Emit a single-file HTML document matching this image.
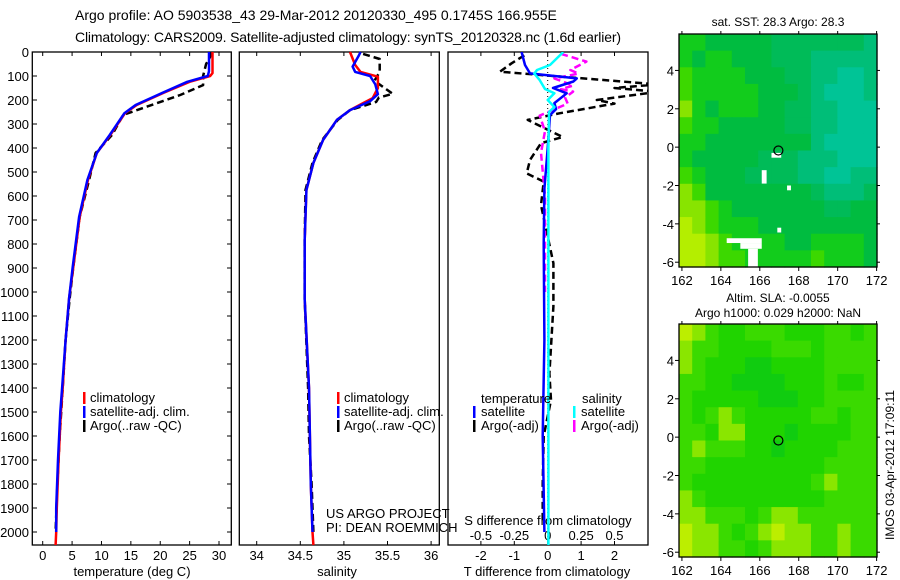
<!DOCTYPE html>
<html><head><meta charset="utf-8"><style>
body{margin:0;background:#fff;}
svg{display:block;font-family:"Liberation Sans",sans-serif;}
text{fill:#000;}
</style></head><body>
<svg id="fig" width="900" height="580" viewBox="0 0 900 580" xmlns="http://www.w3.org/2000/svg">
<text x="75" y="20" font-size="14">Argo profile: AO 5903538_43 29-Mar-2012 20120330_495 0.1745S 166.955E</text>
<text x="75" y="42" font-size="14" textLength="546">Climatology: CARS2009. Satellite-adjusted climatology: synTS_20120328.nc (1.6d earlier)</text>
</svg>
<script>
// ---------- data ----------
const depthTicks=[0,100,200,300,400,500,600,700,800,900,1000,1100,1200,1300,1400,1500,1600,1700,1800,1900,2000];
const tempTicks=[0,5,10,15,20,25,30];
const salTicks=[34,34.5,35,35.5,36];
const salTickLabels=["34","34.5","35","35.5","36"];
const tdiffTicks=[-2,-1,0,1,2];
const sdiffTicks=[-0.5,-0.25,0,0.25,0.5];
const sdiffTickLabels=["-0.5","-0.25","0","0.25","0.5"];

const tClimDepth=[0,88,100,124,171,221,255,346,421,533,687,896,1026,1200,1400,1500,1700,1900,2000,2054];
const tClimVal=[28.9,28.9,28.5,25,20.5,16,14,11.5,9.2,7.7,6.3,5.2,4.5,3.9,3.4,3.1,2.7,2.4,2.3,2.2];
const tSatDepth=[0,80,100,124,171,221,255,346,421,533,687,896,1026,1200,1400,1500,1700,1900,2000];
const tSatVal=[28.3,28.3,28.1,24.6,20.3,15.8,13.9,11.4,9.2,7.6,6.2,5.1,4.5,3.9,3.3,3.0,2.6,2.3,2.3];
const tArgoDepth=[0,20,50,100,138,179,228,262,346,421,533,687,896,1026,1200,1400,1600,1800,2000];
const tArgoVal=[28.5,28.5,27.8,27.3,27.3,23.4,17.7,13.7,11.8,9.0,7.9,6.3,5.2,4.6,3.9,3.4,2.9,2.5,2.2];

const sClimDepth=[0,54,83,103,150,192,213,242,283,367,462,575,783,1030,1400,1600,1800,2000,2054];
const sClimVal=[35.07,35.13,35.19,35.39,35.39,35.33,35.22,35.07,34.92,34.76,34.65,34.57,34.55,34.55,34.6,34.61,34.62,34.64,34.65];
const sSatDepth=[0,16,61,83,100,135,176,205,242,283,367,462,575,783,1030,1400,1600,1800,2000];
const sSatVal=[35.19,35.17,35.10,35.13,35.30,35.36,35.39,35.30,35.07,34.92,34.76,34.65,34.57,34.55,34.55,34.6,34.61,34.62,34.64];
const sArgoDepth=[8,29,83,120,174,190,208,242,283,367,462,575,783,1030,1400,1600,1800,2000];
const sArgoVal=[35.22,35.41,35.41,35.35,35.56,35.4,35.37,35.07,34.93,34.75,34.64,34.56,34.55,34.55,34.59,34.6,34.63,34.65];

const dTSatDepth=[0,54,89,110,123,150,172,213,238,263,400,570,800,1200,1600,2000];
const dTSatVal=[-0.78,-0.68,-0.53,0.87,0.77,0.16,0.57,0.2,0.25,0.07,0,-0.1,-0.12,-0.1,-0.15,-0.1];
const dTArgoDepth=[14,47,82,135,150,166,200,215,255,283,300,354,380,450,506,540,638,880,1060,1340,1450,1600,1800,1950];
const dTArgoVal=[-0.7,-1.08,-1.43,3.3,2.0,3.3,1.47,2.0,0.37,-0.6,-0.35,0.45,-0.2,-0.53,-0.63,-0.12,-0.2,0.17,0.17,0.05,0.1,-0.12,-0.15,-0.15];
const dSSatDepth=[0,54,75,90,117,154,172,200,229,250,400,800,1200,1600,2054];
const dSSatVal=[0.117,0.017,-0.08,-0.1,-0.06,-0.02,0.05,0,0.05,0.01,0.005,0.005,0.005,0.005,0.005];
const dSArgoDepth=[8,40,75,90,110,140,155,165,190,215,265,330,420,600,800,1000];
const dSArgoVal=[0.1,0.29,0.17,0.23,0.05,0.19,0.1,0.19,0.13,0.15,-0.06,-0.02,-0.05,-0.02,-0.02,-0.02];

const latTicks=[-6,-4,-2,0,2,4];
const lonTicks=[162,164,166,168,170,172];
const sstGrid=["ddeeeeefffffffg","deddeeefffggggg","cddddeeeffgghhg","cdddddeeefghhhg","bdedddeeffgghhh","cddeeeeeffgghhh","ddeeeeeeeeghhhh","deeeeefffggghhh","cdeeeffffgghhgg","bceeeeeeeefgggf","bbcdeeeeeeeffee","abcdddeeeeeeeee","aabcddddeedddde","aabccdddddcddde"];
const slaGrid=["abcddcccdddccdc","bccddddcccdcccc","bcdddeeddddcccc","ccddeeeedddcddc","cdddddeeeddcccc","cdcbcdddddccdcc","ccdbbdddeddddcc","cbcccddeddddccc","ccdddddddddcccc","cdddddddddcbccc","bcdddddddddcccc","bbcccdcbbcccccc","abbcdcbabbccbcc","abbccdcbbbccbcc"];
const sstGaps=[[166.6,167.1,-0.3,-0.55],[166.1,166.35,-1.2,-1.9],[167.4,167.6,-2.0,-2.25],[166.9,167.1,-4.2,-4.45],[164.3,166.1,-4.75,-5.0],[165.0,166.1,-5.0,-5.3],[165.4,165.9,-5.3,-6.3]];
const argoLon=166.955, argoLat=-0.1745;

// ---------- helpers ----------
const svg=document.getElementById('fig');
const NS="http://www.w3.org/2000/svg";
function mk(tag,attrs,parent){const e=document.createElementNS(NS,tag);for(const k in attrs)e.setAttribute(k,attrs[k]);(parent||svg).appendChild(e);return e;}
const Y0=52,YS=0.24,PB=545;
const yD=d=>Y0+d*YS;
const xT=v=>42.7+v*5.877;
const xS=v=>256.7+(v-34)*87.2;
const xdT=v=>547.7+v*33.4;
const xdS=v=>547.7+v*133.6;

function line(dep,val,fx,color,dash,name,clip){
  const pts=dep.map((d,i)=>fx(val[i]).toFixed(1)+","+yD(d).toFixed(1)).join(" ");
  const p=mk('polyline',{points:pts,fill:'none',stroke:color,'stroke-width':2.5,'stroke-linejoin':'round'});
  if(dash)p.setAttribute('stroke-dasharray',dash);
  if(clip)p.setAttribute('clip-path',clip);
  
  
}
function txt(x,y,s,size,anchor,name){const t=mk('text',{x:x,y:y,'font-size':size||13,'text-anchor':anchor||'start'});t.textContent=s;
  return t;}
function box(x,y,w,h,name){const r=mk('rect',{x:x,y:y,width:w,height:h,fill:'none',stroke:'#000','stroke-width':1.3});
  }
function legendBar(x,y,color,name){const r=mk('rect',{x:x,y:y-10,width:2.5,height:12,fill:color});
  }

const defs=mk('defs',{});
const cp=mk('clipPath',{id:'c3'},defs);mk('rect',{x:448,y:52,width:200,height:493},cp);

// ---------- panel 1 ----------
box(32.3,52,199,493,'temperature-panel');
depthTicks.forEach(d=>{
  mk('line',{x1:32.3,x2:37,y1:yD(d),y2:yD(d),stroke:'#000'});
  mk('line',{x1:227,x2:231.3,y1:yD(d),y2:yD(d),stroke:'#000'});
  txt(29,yD(d)+5,String(d),13,'end','depth-tick-label');
});
tempTicks.forEach(v=>{mk('line',{x1:xT(v),x2:xT(v),y1:52,y2:56,stroke:'#000'});mk('line',{x1:xT(v),x2:xT(v),y1:541,y2:545,stroke:'#000'});
  txt(xT(v),560,String(v),13,'middle','temperature-tick-label');});
txt(132,576,'temperature (deg C)',13,'middle','x-axis-title-temperature');
line(tArgoDepth,tArgoVal,xT,'#000','7,4','temp-argo-line');
line(tClimDepth,tClimVal,xT,'#f00',null,'temp-climatology-line');
line(tSatDepth,tSatVal,xT,'#00f',null,'temp-satellite-line');
legendBar(83,402,'#f00','legend-climatology-swatch');txt(90,402,'climatology',13,'start','legend-climatology');
legendBar(83,416,'#00f','legend-satellite-swatch');txt(90,416,'satellite-adj. clim.',13,'start','legend-satellite');
legendBar(83,430,'#000','legend-argo-swatch');txt(90,430,'Argo(..raw -QC)',13,'start','legend-argo');

// ---------- panel 2 ----------
box(239.3,52,200,493,'salinity-panel');
salTicks.forEach((v,i)=>{mk('line',{x1:xS(v),x2:xS(v),y1:52,y2:56,stroke:'#000'});mk('line',{x1:xS(v),x2:xS(v),y1:541,y2:545,stroke:'#000'});
  txt(xS(v),560,salTickLabels[i],13,'middle','salinity-tick-label');});
txt(337,576,'salinity',13,'middle','x-axis-title-salinity');
line(sArgoDepth,sArgoVal,xS,'#000','7,4','sal-argo-line');
line(sClimDepth,sClimVal,xS,'#f00',null,'sal-climatology-line');
line(sSatDepth,sSatVal,xS,'#00f',null,'sal-satellite-line');
legendBar(337,402,'#f00','legend2-climatology-swatch');txt(344,402,'climatology',13,'start','legend2-climatology');
legendBar(337,416,'#00f','legend2-satellite-swatch');txt(344,416,'satellite-adj. clim.',13,'start','legend2-satellite');
legendBar(337,430,'#000','legend2-argo-swatch');txt(344,430,'Argo(..raw -QC)',13,'start','legend2-argo');
txt(326,518,'US ARGO PROJECT',13,'start','project-label');
txt(326,532,'PI: DEAN ROEMMICH',13,'start','pi-label');

// ---------- panel 3 ----------
box(448,52,200,493,'difference-panel');
tdiffTicks.forEach(v=>{mk('line',{x1:xdT(v),x2:xdT(v),y1:52,y2:56,stroke:'#000'});
  txt(xdT(v),560,String(v),13,'middle','tdiff-tick-label');});
sdiffTicks.forEach((v,i)=>{mk('line',{x1:xdS(v),x2:xdS(v),y1:541,y2:545,stroke:'#000'});
  txt(xdS(v),540,sdiffTickLabels[i],13,'middle','sdiff-tick-label');});
txt(547,576,'T difference from climatology',13,'middle','x-axis-title-tdiff');
txt(548,525,'S difference from climatology',13,'middle','x-axis-title-sdiff');
mk('line',{x1:xdT(0),x2:xdT(0),y1:52,y2:545,stroke:'#000','stroke-dasharray':'1,3'});
line(dTArgoDepth,dTArgoVal,xdT,'#000','7,4','tdiff-argo-line','url(#c3)');
line(dSArgoDepth,dSArgoVal,xdS,'#f0f','7,4','sdiff-argo-line','url(#c3)');
line(dTSatDepth,dTSatVal,xdT,'#00f',null,'tdiff-satellite-line','url(#c3)');
line(dSSatDepth,dSSatVal,xdS,'#0ff',null,'sdiff-satellite-line','url(#c3)');
txt(481,403,'temperature',13,'start','legend3-temperature-header');
legendBar(473,416,'#00f','legend3-tsat-swatch');txt(481,416,'satellite',13,'start','legend3-tsat');
legendBar(473,430,'#000','legend3-targo-swatch');txt(481,430,'Argo(-adj)',13,'start','legend3-targo');
txt(582,403,'salinity',13,'start','legend3-salinity-header');
legendBar(573,416,'#0ff','legend3-ssat-swatch');txt(581,416,'satellite',13,'start','legend3-ssat');
legendBar(573,430,'#f0f','legend3-sargo-swatch');txt(581,430,'Argo(-adj)',13,'start','legend3-sargo');

// ---------- maps ----------
const pal1={a:'#b4ee00',b:'#88e400',c:'#3cd800',d:'#12cc1c',e:'#00bc40',f:'#00bb58',g:'#00be78',h:'#00c496'};
const pal2={a:'#bcee00',b:'#8ae600',c:'#3ada00',d:'#20d400',e:'#10cc10'};
const LON0=161.85,LON1=172.02,LAT0=-6.25,LAT1=5.9;
function drawMap(top,grid,pal,name,gaps){
  const L=679,R=877,T=top,B=top+233;
  const xL=lon=>L+(lon-LON0)/(LON1-LON0)*(R-L);
  const yL=lat=>T+(LAT1-lat)/(LAT1-LAT0)*(B-T);
  const g=mk('g',{});
  const nr=grid.length,nc=grid[0].length;
  const dLon=(LON1-LON0)/nc,dLat=(LAT1-LAT0)/nr;
  grid.forEach((row,r)=>{for(let c=0;c<nc;c++){
    const x0=xL(LON0+c*dLon),x1=xL(LON0+(c+1)*dLon),y0=yL(LAT1-r*dLat),y1=yL(LAT1-(r+1)*dLat);
    const cell=mk('rect',{x:x0.toFixed(2),y:y0.toFixed(2),width:(x1-x0+0.6).toFixed(2),height:(y1-y0+0.6).toFixed(2),fill:pal[row[c]]},g);
    
    
  }});
  (gaps||[]).forEach(q=>{const w=mk('rect',{x:xL(q[0]),y:yL(q[2]),width:xL(q[1])-xL(q[0]),height:yL(q[3])-yL(q[2]),fill:'#fff'},g);
    });
  box(L,T,R-L,B-T,name+'-frame');
  latTicks.forEach(v=>{mk('line',{x1:L,x2:L-4,y1:yL(v),y2:yL(v),stroke:'#000'});mk('line',{x1:R,x2:R+3,y1:yL(v),y2:yL(v),stroke:'#000'});
    txt(L-5,yL(v)+5,String(v),13,'end','lat-tick-label');});
  lonTicks.forEach(v=>{mk('line',{x1:xL(v),x2:xL(v),y1:B,y2:B+4,stroke:'#000'});mk('line',{x1:xL(v),x2:xL(v),y1:T,y2:T-3,stroke:'#000'});
    txt(xL(v),B+18,String(v),13,'middle','lon-tick-label');});
  const c=mk('circle',{cx:xL(argoLon),cy:yL(argoLat),r:4.5,fill:'none',stroke:'#000','stroke-width':1.2});
  
}
drawMap(34,sstGrid,pal1,'sst-map',sstGaps);
drawMap(324,slaGrid,pal2,'sla-map',[]);
txt(778,26,'sat. SST: 28.3 Argo: 28.3',12,'middle','sst-map-title');
txt(778,302,'Altim. SLA: -0.0055',12,'middle','sla-map-title');
txt(778,317,'Argo h1000: 0.029 h2000: NaN',12,'middle','sla-map-subtitle');
const rt=txt(0,0,'IMOS 03-Apr-2012 17:09:11',12,'middle','timestamp-label');
rt.setAttribute('transform','translate(894,465) rotate(-90)');
</script>
</body></html>
